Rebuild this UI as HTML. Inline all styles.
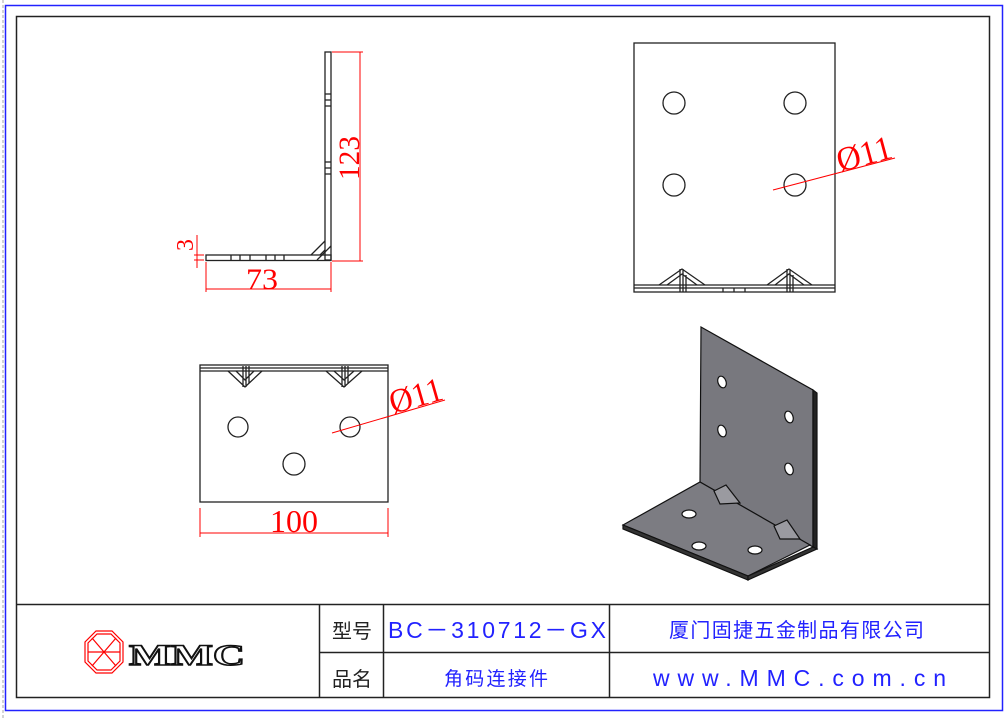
<!DOCTYPE html>
<html><head><meta charset="utf-8"><style>
html,body{margin:0;padding:0;background:#fff;}
svg{display:block;}
.t{font-family:"Liberation Serif",serif;fill:#f00;}
.cj{font-family:"Liberation Sans","Noto Sans CJK SC",sans-serif;}
</style></head><body>
<svg width="1008" height="718" viewBox="0 0 1008 718" xmlns="http://www.w3.org/2000/svg">
<rect x="0" y="0" width="1008" height="718" fill="#fff"/>
<line x1="3" y1="0" x2="3" y2="718" stroke="#aaa" stroke-dasharray="3,2"/>
<rect x="5.5" y="5.5" width="997" height="705" fill="none" stroke="#22f" stroke-width="1.5"/>
<rect x="16.5" y="16.5" width="973" height="681" fill="none" stroke="#222" stroke-width="1.5"/>
<!-- title block -->
<g stroke="#222" stroke-width="1.5" fill="none">
<line x1="16" y1="604.5" x2="990" y2="604.5"/>
<line x1="319.5" y1="604" x2="319.5" y2="698"/>
<line x1="383.5" y1="604" x2="383.5" y2="698"/>
<line x1="609.5" y1="604" x2="609.5" y2="698"/>
<line x1="319" y1="652.5" x2="990" y2="652.5"/>
</g>
<g class="cj" font-size="20" fill="#222"><text x="332" y="638">型号</text><text x="332" y="686">品名</text></g>
<text x="388" y="638" font-family="'Liberation Sans',sans-serif" font-size="23" fill="#22f" textLength="218" lengthAdjust="spacing">BC－310712－GX</text>
<text x="669" y="637" class="cj" font-size="20" fill="#22f" textLength="255" lengthAdjust="spacing">厦门固捷五金制品有限公司</text>
<text x="444" y="685" class="cj" font-size="19" fill="#22f" textLength="104" lengthAdjust="spacing">角码连接件</text>
<text x="653" y="686" font-family="'Liberation Sans',sans-serif" font-size="23" fill="#22f" textLength="293" lengthAdjust="spacing">www.MMC.com.cn</text>
<!-- logo -->
<g stroke="#f00" fill="none" stroke-width="1.2">
<polygon points="96,631 112,631 123,642 123,662 112,673 96,673 85,662 85,642"/>
<polygon points="97,634 111,634 120,643 120,661 111,670 97,670 88,661 88,643"/>
<line x1="92" y1="638" x2="116" y2="666"/><line x1="116" y1="638" x2="92" y2="666"/>
<line x1="88" y1="652" x2="120" y2="652"/>
</g>
<text x="129" y="665" font-family="'Liberation Serif',serif" font-weight="bold" font-size="30" fill="#fff" stroke="#111" stroke-width="1.5" textLength="116" lengthAdjust="spacingAndGlyphs">MMC</text>
<!-- side view -->
<g stroke="#222" stroke-width="1.3" fill="none">
<rect x="325" y="52" width="6" height="208"/>
<rect x="206" y="255" width="125" height="5.5"/>
<line x1="325" y1="94" x2="331" y2="94"/><line x1="325" y1="100" x2="331" y2="100"/><line x1="325" y1="106" x2="331" y2="106"/>
<line x1="325" y1="162" x2="331" y2="162"/><line x1="325" y1="168" x2="331" y2="168"/><line x1="325" y1="174" x2="331" y2="174"/>
<line x1="231" y1="255" x2="231" y2="260"/><line x1="240" y1="255" x2="240" y2="260"/><line x1="250" y1="255" x2="250" y2="260"/>
<line x1="266" y1="255" x2="266" y2="260"/><line x1="275" y1="255" x2="275" y2="260"/><line x1="284" y1="255" x2="284" y2="260"/>
<line x1="311" y1="255" x2="325" y2="241"/><line x1="317" y1="260" x2="331" y2="246"/><line x1="320" y1="255" x2="325" y2="250"/>
</g>
<g stroke="#f00" stroke-width="1" fill="none">
<line x1="332" y1="52" x2="363" y2="52"/><line x1="332" y1="261" x2="363" y2="261"/>
<line x1="360" y1="52" x2="360" y2="261"/>
<line x1="206" y1="262" x2="206" y2="292"/><line x1="331" y1="262" x2="331" y2="292"/>
<line x1="206" y1="289" x2="331" y2="289"/>
<line x1="197" y1="235" x2="197" y2="268"/><line x1="194" y1="255" x2="204" y2="255"/><line x1="194" y1="260" x2="204" y2="260"/>
</g>
<text class="t" font-size="30" transform="translate(359,136) rotate(-90)" textLength="44" lengthAdjust="spacingAndGlyphs" text-anchor="end">123</text>
<text class="t" font-size="30" x="246" y="289" textLength="32" lengthAdjust="spacingAndGlyphs">73</text>
<text class="t" font-size="24" transform="translate(193,245) rotate(-90)" text-anchor="middle">3</text>
<!-- top-right view -->
<g stroke="#222" stroke-width="1.3" fill="none">
<rect x="634" y="43" width="201" height="249"/>
<circle cx="674" cy="103" r="11"/><circle cx="795" cy="103" r="11"/>
<circle cx="674" cy="185" r="11"/><circle cx="795" cy="185" r="11"/>
<line x1="634" y1="285" x2="835" y2="285"/><line x1="634" y1="288" x2="835" y2="288"/>
<path d="M659,285 L682,269 L705,285 M667,285 L682,274 L697,285 M680,269 V292 M683,269 V292 M686,275 V292"/>
<path d="M767,285 L789,269 L812,285 M775,285 L789,274 L804,285 M787,269 V292 M790,269 V292 M793,275 V292"/>
<line x1="723" y1="288" x2="723" y2="292"/><line x1="734" y1="288" x2="734" y2="292"/><line x1="745" y1="288" x2="745" y2="292"/>
</g>
<line x1="773" y1="190" x2="895" y2="158" stroke="#f00" stroke-width="1"/>
<text class="t" font-size="34" transform="translate(840,172) rotate(-15)" textLength="56" lengthAdjust="spacingAndGlyphs">Ø11</text>
<!-- bottom-left view -->
<g stroke="#222" stroke-width="1.3" fill="none">
<rect x="200" y="365" width="188" height="137"/>
<line x1="200" y1="368" x2="388" y2="368"/><line x1="200" y1="371" x2="388" y2="371"/>
<path d="M228,371 L245,387 L262,371 M236,371 L245,380 L254,371 M243,366 V387 M246,366 V387 M249,366 V383"/>
<path d="M326,371 L344,387 L362,371 M334,371 L344,380 L354,371 M342,366 V387 M345,366 V387 M348,366 V383"/>
<circle cx="238" cy="427" r="10"/><circle cx="350" cy="427" r="10"/><circle cx="294" cy="464" r="11"/>
</g>
<g stroke="#f00" stroke-width="1" fill="none">
<line x1="332" y1="433" x2="445" y2="400"/>
<line x1="200" y1="508" x2="200" y2="537"/><line x1="388" y1="508" x2="388" y2="537"/>
<line x1="200" y1="533" x2="388" y2="533"/>
</g>
<text class="t" font-size="34" transform="translate(393,414) rotate(-16)" textLength="54" lengthAdjust="spacingAndGlyphs">Ø11</text>
<text class="t" font-size="32" x="270" y="532" textLength="48" lengthAdjust="spacingAndGlyphs">100</text>
<!-- 3D -->
<g stroke="#111" stroke-width="1.2">
<polygon points="701,327 813,390 813,547 700,482" fill="#78787e"/>
<polygon points="813,390 817,393 817,549 813,547" fill="#222"/>
<polygon points="700,482 810,545 748,576 623,525" fill="#7c7c82"/>
<polygon points="623,525 748,576 748,580 623,529" fill="#333"/>
<polygon points="748,576 813,547 817,549 748,580" fill="#333"/>
<g fill="#fff">
<ellipse cx="722" cy="382" rx="4" ry="6" transform="rotate(-20 722 382)"/>
<ellipse cx="722" cy="431" rx="4" ry="6" transform="rotate(-20 722 431)"/>
<ellipse cx="789" cy="417" rx="4" ry="6" transform="rotate(-20 789 417)"/>
<ellipse cx="789" cy="469" rx="4" ry="6" transform="rotate(-20 789 469)"/>
<ellipse cx="689" cy="514" rx="7" ry="4"/>
<ellipse cx="699" cy="546" rx="7" ry="4"/>
<ellipse cx="755" cy="550" rx="7" ry="4"/>
</g>
<g fill="#9a9aa0">
<polygon points="714,491 726,485 740,503 720,504"/>
<polygon points="774,526 787,520 800,539 780,539"/>
</g>
</g>
</svg>
</body></html>
